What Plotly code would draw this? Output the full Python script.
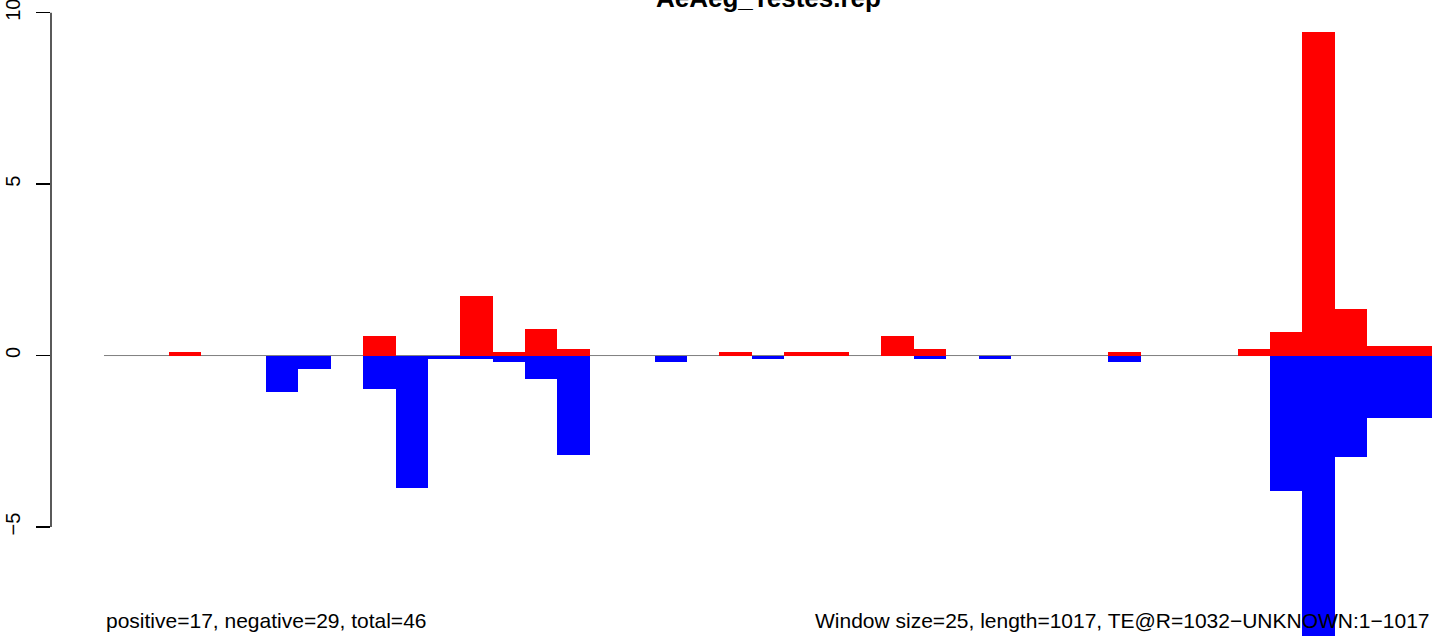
import plotly.graph_objects as go

# ---- data (41 windows of 25 bp) ----
window_index = list(range(41))
positive_vals = [0, 0, 0.1, 0, 0, 0, 0, 0, 0.57, 0,
                 0, 1.74, 0.1, 0.77, 0.18, 0, 0, 0, 0, 0.1,
                 0, 0.1, 0.1, 0, 0.56, 0.18, 0, 0, 0, 0,
                 0, 0.1, 0, 0, 0, 0.19, 0.69, 9.44, 1.36, 0.28,
                 0.28]
negative_vals = [0, 0, 0, 0, 0, -1.06, -0.39, 0, -0.97, -3.86,
                 -0.1, -0.1, -0.18, -0.69, -2.89, 0, 0, -0.18, 0, 0,
                 -0.1, 0, 0, 0, 0, -0.1, 0, -0.1, 0, 0,
                 0, -0.18, 0, 0, 0, 0, -3.94, -8.6, -2.97, -1.81,
                 -1.81]
y_ticks = [-5, 0, 5, 10]
title_text = "AeAeg_Testes.rep"
left_note = "positive=17, negative=29, total=46"
right_note = "Window size=25, length=1017, TE@R=1032\u2212UNKNOWN:1\u22121017"

n = len(window_index)
xc = [i + 0.5 for i in window_index]

XR = [-1.636, 41.37]
YR = [-8.18, 10.37]

def ypaper(v):
    return (v - YR[0]) / (YR[1] - YR[0])

def xpaper(v):
    return (v - XR[0]) / (XR[1] - XR[0])

FONT = "Liberation Sans, Arial, Helvetica, sans-serif"

fig = go.Figure()
fig.add_trace(go.Bar(x=xc, y=positive_vals, width=1, marker=dict(color="#FF0000", line=dict(width=0)),
                     showlegend=False, hoverinfo="skip"))
fig.add_trace(go.Bar(x=xc, y=negative_vals, width=1, marker=dict(color="#0000FF", line=dict(width=0)),
                     showlegend=False, hoverinfo="skip"))

shapes = [
    # zero reference line
    dict(type="line", xref="x", yref="y", x0=0, x1=n, y0=0, y1=0,
         line=dict(color="#7f7f7f", width=1), layer="below"),
    # y axis line (R style, from first to last tick)
    dict(type="line", xref="paper", yref="paper", x0=0, x1=0,
         y0=ypaper(min(y_ticks)), y1=ypaper(max(y_ticks)),
         line=dict(color="black", width=1.3)),
]

annotations = [
    dict(text="<b>" + title_text + "</b>", xref="paper", yref="paper",
         x=xpaper(n / 2), y=1.0031, xanchor="center", yanchor="middle",
         showarrow=False, font=dict(family=FONT, size=26, color="black")),
    dict(text=left_note, xref="x", yref="paper", x=0, y=(636 - 620.4) / 636,
         xanchor="left", yanchor="middle", showarrow=False,
         font=dict(family=FONT, size=21, color="black")),
    dict(text=right_note, xref="x", yref="paper", x=n, y=(636 - 620.4) / 636,
         xanchor="right", yanchor="middle", showarrow=False,
         font=dict(family=FONT, size=21, color="black")),
]

fig.update_layout(
    width=1444, height=636,
    margin=dict(l=51, r=0, t=0, b=0, pad=0),
    paper_bgcolor="white", plot_bgcolor="white",
    barmode="overlay", bargap=0,
    shapes=shapes, annotations=annotations,
    font=dict(family=FONT, color="black"),
    xaxis=dict(range=XR, showgrid=False, zeroline=False, showline=False,
               showticklabels=False, ticks="", fixedrange=True),
    yaxis=dict(range=YR, showgrid=False, zeroline=False, showline=False,
               tickmode="array", tickvals=y_ticks, ticks="outside", ticklen=14,
               tickwidth=1.3, tickcolor="black", tickangle=-90,
               tickfont=dict(family=FONT, size=20, color="black"),
               ticklabelstandoff=8, ticklabeloverflow="allow",
               automargin=False, fixedrange=True),
)

fig.write_html("out.html",
               config={"displayModeBar": False, "staticPlot": True},
               post_script="document.body.style.margin='0';document.body.style.padding='0';")
